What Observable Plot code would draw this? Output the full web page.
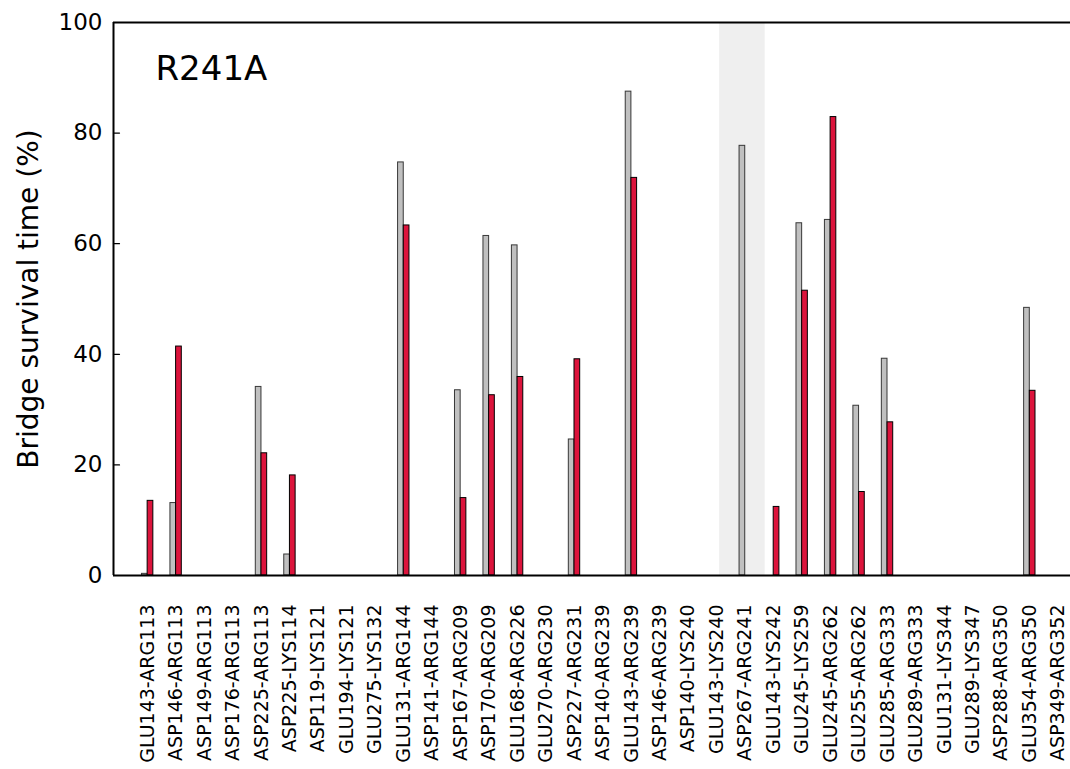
<!DOCTYPE html>
<html><head><meta charset="utf-8">
<script src="https://cdn.jsdelivr.net/npm/d3@7"></script>
<script src="https://cdn.jsdelivr.net/npm/@observablehq/plot@0.6"></script>
<style>html,body{margin:0;padding:0;background:#fff} #chart svg{display:block}</style>
</head><body><div id="chart"></div>
<script>
const pairs = ["GLU143-ARG113","ASP146-ARG113","ASP149-ARG113","ASP176-ARG113","ASP225-ARG113","ASP225-LYS114","ASP119-LYS121","GLU194-LYS121","GLU275-LYS132","GLU131-ARG144","ASP141-ARG144","ASP167-ARG209","ASP170-ARG209","GLU168-ARG226","GLU270-ARG230","ASP227-ARG231","ASP140-ARG239","GLU143-ARG239","ASP146-ARG239","ASP140-LYS240","GLU143-LYS240","ASP267-ARG241","GLU143-LYS242","GLU245-LYS259","GLU245-ARG262","GLU255-ARG262","GLU285-ARG333","GLU289-ARG333","GLU131-LYS344","GLU289-LYS347","ASP288-ARG350","GLU354-ARG350","ASP349-ARG352"];
const wildType = [0.3,13.1,0,0,34.1,3.8,0,0,0,74.7,0,33.5,61.4,59.7,0,24.6,0,87.5,0,0,0,77.7,0,63.7,64.3,30.7,39.2,0,0,0,0,48.4,0];
const mutant   = [13.5,41.4,0,0,22.1,18.1,0,0,0,63.3,0,14.0,32.6,35.9,0,39.1,0,71.9,0,0,0,0,12.4,51.5,82.9,15.1,27.7,0,0,0,0,33.4,0];
const yTicks = [0,20,40,60,80,100];
const highlighted = "ASP267-ARG241";
const title = "R241A";
const yLabel = "Bridge survival time (%)";

const barW = 0.2;
const xDomain = [-1.2, 32.43];
const grayData = pairs.map((p,i)=>({pair:p, i, v: wildType[i]})).filter(d=>d.v>0);
const redData = pairs.map((p,i)=>({pair:p, i, v: mutant[i]})).filter(d=>d.v>0);
const hi = pairs.indexOf(highlighted);
const inwardTick = {draw(context, l) { context.moveTo(0, 0); context.lineTo(0, -l); }};

const chart = Plot.plot({
  width: 1070, height: 769,
  marginLeft: 113, marginRight: 0, marginTop: 22, marginBottom: 194,
  style: {fontFamily: "DejaVu Sans", background: "white", color: "black"},
  x: {type: "linear", domain: xDomain, axis: null},
  y: {domain: [0,100], axis: null},
  marks: [
    Plot.rect([hi], {x1: d=>d-0.9, x2: d=>d+0.7, y1: 0, y2: 100, fill: "#efefef"}),
    Plot.rect(grayData, {x1: d=>d.i-barW, x2: d=>d.i, y1: 0, y2: "v", fill: "#c0c0c0", stroke: "#000", strokeWidth: 1, strokeOpacity: 0.75}),
    Plot.rect(redData, {x1: d=>d.i, x2: d=>d.i+barW, y1: 0, y2: "v", fill: "#dc143c", stroke: "#000", strokeWidth: 1}),
    Plot.vector(yTicks, {y: d=>d, frameAnchor: "left", rotate: 90, length: 6, anchor: "start", shape: inwardTick, stroke: "#000", strokeWidth: 1.2}),
    Plot.ruleY([0,100], {stroke: "#000", strokeWidth: 2}),
    Plot.ruleX([xDomain[0]], {stroke: "#000", strokeWidth: 2}),
    Plot.axisY(yTicks, {tickSize: 0, tickPadding: 11, fontSize: 23, label: null}),
    Plot.axisY({ticks: [], label: yLabel, labelAnchor: "center", labelOffset: 95, fontSize: 28, labelArrow: false}),
    Plot.axisX(pairs.map((p,i)=>i), {tickFormat: i=>pairs[i], tickRotate: -90, tickSize: 0, tickPadding: 29, fontSize: 19, label: null}),
    Plot.text([title], {frameAnchor: "top-left", dx: 42, dy: 33, fontSize: 34, textAnchor: "start", lineAnchor: "top"})
  ]
});
document.getElementById("chart").appendChild(chart);
</script>
</body></html>
